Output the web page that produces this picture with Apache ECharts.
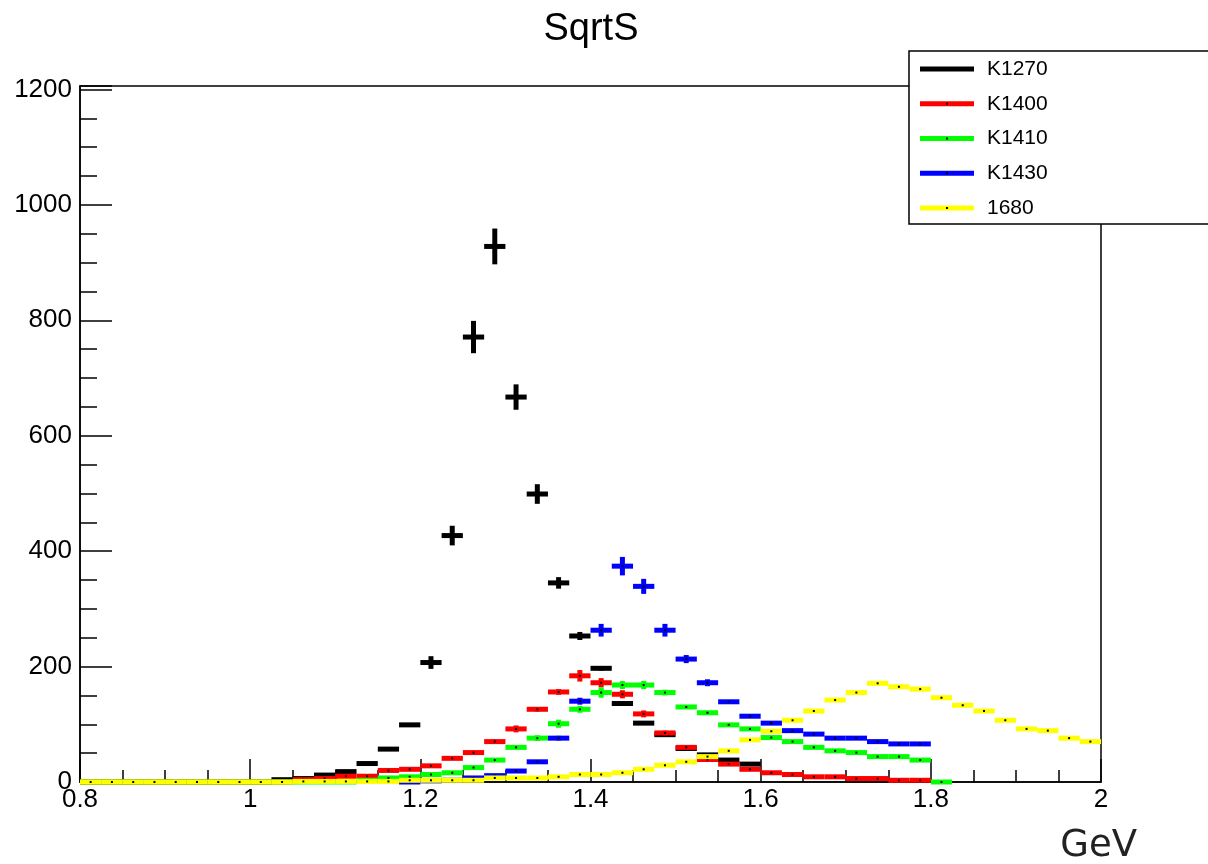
<!DOCTYPE html>
<html>
<head>
<meta charset="utf-8">
<script src="https://cdn.jsdelivr.net/npm/echarts@6/dist/echarts.min.js"></script>
<style>
  html, body { margin: 0; padding: 0; background: #ffffff; }
  #chart { width: 1208px; height: 864px; }
</style>
</head>
<body>
<div id="chart"></div>
<script>
// Histogram binning of the SqrtS axis (GeV)
const X_MIN = 0.8;
const X_MAX = 2.0;
const BIN_WIDTH = 0.025;

const seriesNames = ['K1270', 'K1400', 'K1410', 'K1430', '1680'];
const seriesColors = ['#000000', '#ff0000', '#00ff00', '#0000ff', '#ffff00'];

// Bin contents, 48 bins from 0.8 to 2.0 (null = bin not drawn)
const k1270 = [0, 0, 0, 0, 0, 0, 0, 0, 0, 4, 6, 12, 18, 32, 57, 99, 207, 427, 771, 928,
  667, 499, 345, 253, 197, 136, 102, 82, 58, 47, 38, 31,
  null, null, null, null, null, null, null, null, null, null, null, null, null, null, null, null];
const k1270Err = [0, 0, 0, 0, 0, 0, 0, 0, 0, 0, 0, 0, 0, 0, 0, 3, 11, 17, 28, 31,
  22, 17, 10, 7, 4, 0, 0, 0, 0, 0, 0, 0,
  0, 0, 0, 0, 0, 0, 0, 0, 0, 0, 0, 0, 0, 0, 0, 0];

const k1400 = [0, 0, 0, 0, 0, 0, 0, 0, 0, 0, 4, 6, 10, 10, 20, 22, 28, 41, 51, 70,
  92, 126, 156, 184, 172, 152, 118, 85, 60, 39, 31, 22, 16, 13, 9, 9, 6, 6, 3, 3,
  null, null, null, null, null, null, null, null];
const k1400Err = [0, 0, 0, 0, 0, 0, 0, 0, 0, 0, 0, 0, 0, 0, 0, 0, 0, 0, 0, 4,
  6, 4, 5, 10, 8, 7, 6, 4, 0, 0, 0, 0, 0, 0, 0, 0, 0, 0, 0, 0,
  0, 0, 0, 0, 0, 0, 0, 0];

const k1410 = [0, 0, 0, 0, 0, 0, 0, 0, 0, 0, 0, 0, 0, 3, 7, 9, 13, 16, 25, 38,
  60, 76, 101, 126, 155, 168, 168, 155, 130, 120, 99, 92, 77, 70, 60, 54, 51, 44, 44, 38,
  0, null, null, null, null, null, null, null];
const k1410Err = [0, 0, 0, 0, 0, 0, 0, 0, 0, 0, 0, 0, 0, 0, 0, 0, 0, 0, 0, 0,
  0, 5, 7, 6, 9, 7, 7, 5, 0, 0, 0, 0, 0, 0, 0, 0, 0, 0, 0, 0,
  0, 0, 0, 0, 0, 0, 0, 0];

const k1430 = [null, null, null, null, null, null, null, null, null, null, null, null, null, null, null, 0, 2, 3, 7, 11,
  19, 35, 76, 140, 263, 374, 339, 263, 213, 172, 139, 114, 102, 89, 83, 76, 76, 70, 66, 66,
  null, null, null, null, null, null, null, null];
const k1430Err = [0, 0, 0, 0, 0, 0, 0, 0, 0, 0, 0, 0, 0, 0, 0, 0, 0, 0, 0, 0,
  0, 0, 4, 6, 11, 16, 13, 11, 7, 6, 0, 0, 0, 0, 0, 0, 0, 0, 0, 0,
  0, 0, 0, 0, 0, 0, 0, 0];

const k1680 = [0, 0, 0, 0, 0, 0, 0, 0, 0, 0, 1, 1, 1, 1, 1, 3, 3, 3, 3, 7,
  7, 7, 9, 13, 13, 16, 22, 29, 35, 44, 54, 73, 88, 107, 123, 142, 155, 171, 165, 161,
  146, 133, 123, 107, 92, 89, 76, 70];
const k1680Err = new Array(48).fill(0);

const yTickLabels = ['0', '200', '400', '600', '800', '1000', '1200'];
const xTickLabels = ['0.8', '1', '1.2', '1.4', '1.6', '1.8', '2'];

const seriesValues = [k1270, k1400, k1410, k1430, k1680];
const seriesErrors = [k1270Err, k1400Err, k1410Err, k1430Err, k1680Err];

const FONT = '"Liberation Sans", Arial, Helvetica, sans-serif';
const BAR_T = 5; // thickness of the bin lines and error bars

function binData(values, errors) {
  const out = [];
  values.forEach((v, i) => {
    if (v === null) return;
    const lo = X_MIN + i * BIN_WIDTH;
    out.push([lo, lo + BIN_WIDTH, v, errors[i]]);
  });
  return out;
}

function makeRenderer(withDot) {
  return function (params, api) {
    const lo = api.value(0), hi = api.value(1), v = api.value(2), e = api.value(3);
    const pLo = api.coord([lo, v]);
    const pHi = api.coord([hi, v]);
    const color = api.visual('color');
    const children = [{
      type: 'rect',
      shape: { x: pLo[0], y: pLo[1] - BAR_T / 2, width: pHi[0] - pLo[0], height: BAR_T },
      style: { fill: color }
    }];
    if (e > 0) {
      const mid = (lo + hi) / 2;
      const pTop = api.coord([mid, v + e]);
      const pBot = api.coord([mid, v - e]);
      children.push({
        type: 'rect',
        shape: { x: pTop[0] - BAR_T / 2, y: pTop[1], width: BAR_T, height: pBot[1] - pTop[1] },
        style: { fill: color }
      });
    }
    if (withDot) {
      const cx = (pLo[0] + pHi[0]) / 2;
      children.push({
        type: 'rect',
        shape: { x: cx - 1, y: pLo[1] - 1, width: 2, height: 2 },
        style: { fill: '#000000' }
      });
    }
    return { type: 'group', children: children };
  };
}

const series = seriesNames.map((name, k) => ({
  name: name,
  type: 'custom',
  renderItem: makeRenderer(k > 0),
  encode: { x: [0, 1], y: 2 },
  itemStyle: { color: seriesColors[k] },
  data: binData(seriesValues[k], seriesErrors[k]),
  silent: true,
  z: 2 + k
}));

// Legend box drawn as graphics
const legendX = 909, legendY = 51, legendRowY0 = 69, legendRowGap = 34.75;
const legendChildren = [{
  type: 'rect',
  shape: { x: legendX, y: legendY, width: 330, height: 173 },
  style: { fill: '#ffffff', stroke: '#000000', lineWidth: 1.5 }
}];
seriesNames.forEach((name, k) => {
  const cy = legendRowY0 + k * legendRowGap;
  legendChildren.push({
    type: 'rect',
    shape: { x: 920, y: cy - BAR_T / 2, width: 54, height: BAR_T },
    style: { fill: seriesColors[k] }
  });
  if (k > 0) {
    legendChildren.push({
      type: 'rect',
      shape: { x: 946, y: cy - 1, width: 2, height: 2 },
      style: { fill: '#000000' }
    });
  }
  legendChildren.push({
    type: 'text',
    x: 987, y: cy,
    style: { text: name, font: '21px ' + FONT, fill: '#000000', verticalAlign: 'middle', align: 'left' }
  });
});

const chart = echarts.init(document.getElementById('chart'), null, { renderer: 'canvas' });
chart.setOption({
  animation: false,
  backgroundColor: '#ffffff',
  grid: {
    left: 80, right: 107, top: 86, bottom: 82,
    show: true, borderColor: '#000000', borderWidth: 1.5,
    containLabel: false,
    outerBoundsMode: 'none'
  },
  xAxis: {
    type: 'value',
    min: X_MIN, max: X_MAX, interval: 0.2,
    axisLine: { show: true, lineStyle: { color: '#000000', width: 1.5 } },
    axisTick: { show: true, inside: true, length: 23, lineStyle: { color: '#000000', width: 1.5 } },
    minorTick: { show: true, splitNumber: 4, length: 12, lineStyle: { color: '#000000', width: 1.5 } },
    splitLine: { show: false },
    axisLabel: {
      margin: 5, fontSize: 26, fontFamily: FONT, color: '#000000',
      showMinLabel: true, showMaxLabel: true,
      formatter: (v) => xTickLabels[Math.round((v - X_MIN) / 0.2)]
    }
  },
  yAxis: {
    type: 'value',
    min: 0, max: 1206, interval: 200,
    axisLine: { show: true, lineStyle: { color: '#000000', width: 1.5 } },
    axisTick: { show: true, inside: true, length: 32, lineStyle: { color: '#000000', width: 1.5 } },
    minorTick: { show: true, splitNumber: 4, length: 17, lineStyle: { color: '#000000', width: 1.5 } },
    splitLine: { show: false },
    axisLabel: {
      margin: 8, fontSize: 26, fontFamily: FONT, color: '#000000',
      showMaxLabel: false,
      formatter: (v) => {
        const idx = Math.round(v / 200);
        return (Math.abs(v - idx * 200) < 1e-6 && yTickLabels[idx] !== undefined) ? yTickLabels[idx] : '';
      }
    }
  },
  series: series,
  graphic: [
    {
      type: 'text', x: 591, y: 30, z: 100,
      style: { text: 'SqrtS', font: '38px ' + FONT, fill: '#000000', align: 'center', verticalAlign: 'middle' }
    },
    {
      type: 'text', x: 1137, y: 846, z: 100,
      style: { text: 'GeV', font: '37px "DejaVu Sans", sans-serif', fill: '#222222', align: 'right', verticalAlign: 'middle' }
    },
    { type: 'group', z: 100, children: legendChildren }
  ]
});
</script>
</body>
</html>
